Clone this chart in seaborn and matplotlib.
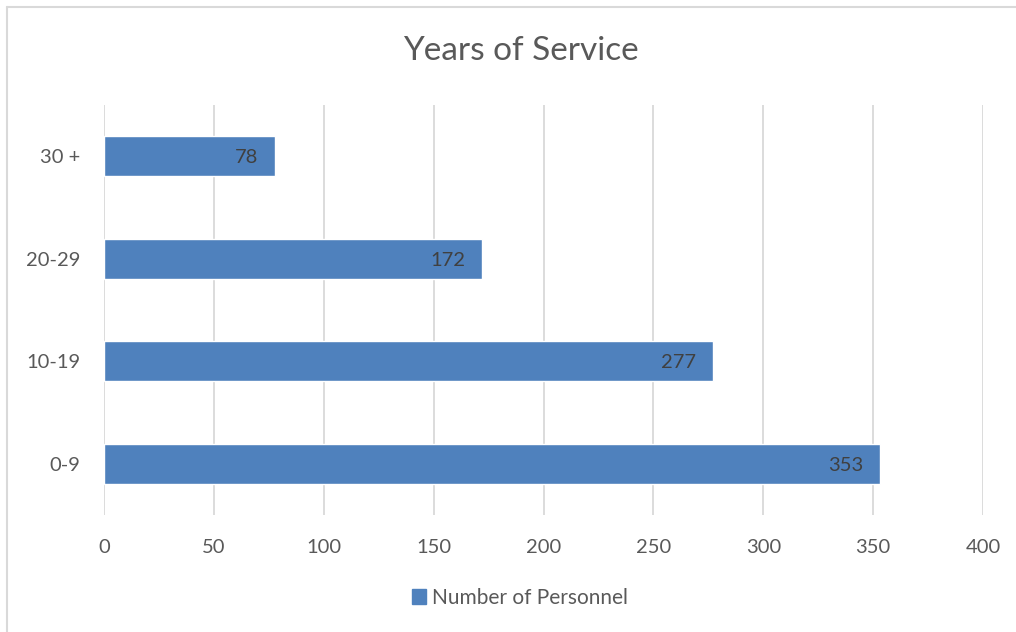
import matplotlib
matplotlib.use("Agg")
import matplotlib.pyplot as plt
import matplotlib.patches as mpatches
from matplotlib.lines import Line2D
import seaborn as sns
import pandas as pd

categories = ["30 +", "20-29", "10-19", "0-9"]
values = [78, 172, 277, 353]
series_name = "Number of Personnel"
title = "Years of Service"
x_ticks = [0, 50, 100, 150, 200, 250, 300, 350, 400]

sns.set_theme(style="white")
plt.rcParams['font.family'] = ['Lato', 'DejaVu Sans']

BLUE = "#4F81BD"
GRID = "#D9D9D9"
TXT = "#595959"

fig = plt.figure(figsize=(10.16, 6.32), dpi=100)
ax = fig.add_axes([104/1016, 1-515/632, (983-104)/1016, (515-105)/632])

df = pd.DataFrame({"cat": categories, "val": values})
sns.barplot(data=df, x="val", y="cat", order=categories, color=BLUE,
            width=0.39, saturation=1, ax=ax)

ax.set_xlim(0, 400)
ax.set_ylim(3.5, -0.5)
ax.set_xticks(x_ticks)
ax.set_xticklabels([str(t) for t in x_ticks])
ax.set_xlabel("")
ax.set_ylabel("")
for s in ax.spines.values():
    s.set_visible(False)
ax.grid(False)
for t in x_ticks:
    ax.axvline(t, color=GRID, lw=1.3, zorder=0)
ax.tick_params(axis='x', length=0, pad=17, labelsize=14.5, labelcolor=TXT)
ax.tick_params(axis='y', length=0, pad=17, labelsize=14.5, labelcolor=TXT)

for i, v in enumerate(values):
    ax.annotate(str(v), xy=(v, i), xytext=(-12, -1), textcoords="offset points",
                ha="right", va="center", fontsize=14.5, color="#404040")

fig.text(0.513, 1-51/632, title, ha="center", va="center", fontsize=24, color=TXT)

handle = mpatches.Patch(color=BLUE, label=series_name)
leg = fig.legend(handles=[handle], loc="center", bbox_to_anchor=(520/1016, 1-598/632),
                 frameon=False, fontsize=15, handlelength=0.65, handleheight=0.75,
                 handletextpad=0.3)
for t in leg.get_texts():
    t.set_color(TXT)

fig.add_artist(Line2D([7/1016, 1.0], [1-7/632, 1-7/632], color=GRID, lw=1.5,
                      transform=fig.transFigure))
fig.add_artist(Line2D([7/1016, 7/1016], [0, 1-7/632], color=GRID, lw=1.5,
                      transform=fig.transFigure))

fig.savefig("out.png", dpi=100, facecolor="white")
